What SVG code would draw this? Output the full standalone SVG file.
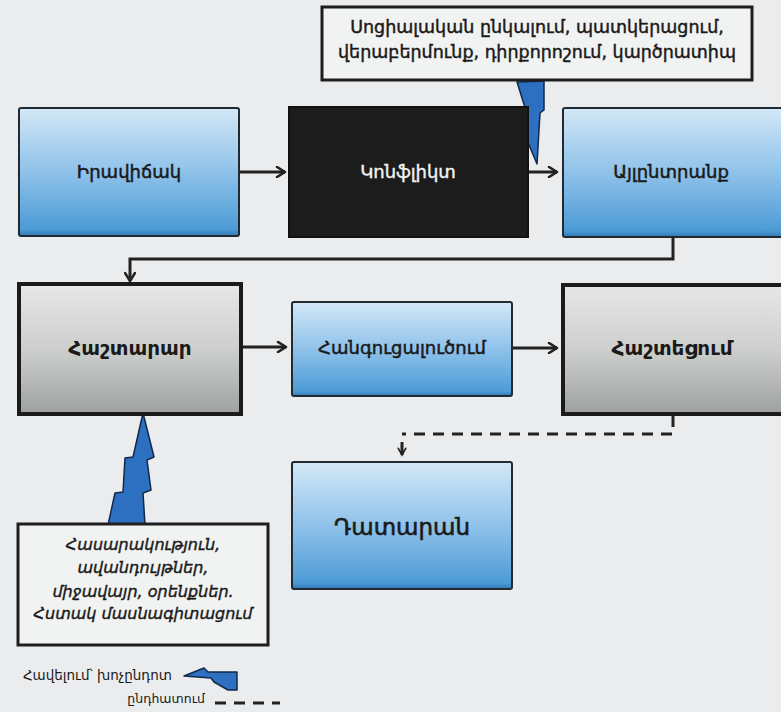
<svg xmlns="http://www.w3.org/2000/svg" width="781" height="712" viewBox="0 0 781 712">
<defs>
<linearGradient id="blue" x1="0" y1="0" x2="0" y2="1">
<stop offset="0" stop-color="#d3e7f6"/>
<stop offset="0.5" stop-color="#8fc2ea"/>
<stop offset="0.95" stop-color="#4d9bd6"/>
<stop offset="1" stop-color="#2f78b4"/>
</linearGradient>
<linearGradient id="gray" x1="0" y1="0" x2="0" y2="1">
<stop offset="0" stop-color="#e6e7e6"/>
<stop offset="0.5" stop-color="#cdcfcd"/>
<stop offset="1" stop-color="#9ea29f"/>
</linearGradient>
<marker id="arr" viewBox="0 0 12 12" refX="10" refY="6" markerWidth="12" markerHeight="12" markerUnits="userSpaceOnUse" orient="auto">
<path d="M2,1 L10,6 L2,11" fill="none" stroke="#222" stroke-width="2.6" stroke-linecap="round" stroke-linejoin="round"/>
</marker>
<marker id="arrs" viewBox="0 0 12 12" refX="10" refY="6" markerWidth="10" markerHeight="10" markerUnits="userSpaceOnUse" orient="auto">
<path d="M2,1.5 L10,6 L2,10.5" fill="none" stroke="#222" stroke-width="2" stroke-linecap="round"/>
</marker>
</defs>
<style>
.bg{fill:#ebecee}
.bbox{fill:url(#blue);stroke:#1f2a33;stroke-width:2}
.gbox{fill:url(#gray);stroke:#1b1b1b;stroke-width:4}
.kbox{fill:#1c1c1c;stroke:#111;stroke-width:2}
.note{fill:#f1f2f2;stroke:#1e1e1e;stroke-width:3}
.bolt{fill:#2d6fc0;stroke:#122a4a;stroke-width:1.5;stroke-linejoin:round}
.lbl{font-family:"DejaVu Sans",sans-serif;font-size:18px;fill:#1a1a1a;text-anchor:middle;stroke:#1a1a1a;stroke-width:0.5}
.lblb{font-family:"DejaVu Sans",sans-serif;font-size:20px;font-weight:bold;fill:#1a1a1a;text-anchor:middle}
.lblw{font-family:"DejaVu Sans",sans-serif;font-size:18px;fill:#f2f2f2;text-anchor:middle;stroke:#f2f2f2;stroke-width:0.4}
.nt{font-family:"DejaVu Sans",sans-serif;font-size:17.5px;fill:#1a1a1a;text-anchor:middle;stroke:#1a1a1a;stroke-width:0.45}
.nti{font-family:"DejaVu Sans",sans-serif;font-size:16px;font-style:italic;fill:#1a1a1a;text-anchor:middle;stroke:#1a1a1a;stroke-width:0.4}
.lg{font-family:"DejaVu Sans",sans-serif;font-size:13.5px;fill:#1a1a1a}
.conn{fill:none;stroke:#222;stroke-width:3}
.dash{fill:none;stroke:#222;stroke-width:3;stroke-dasharray:11 8}
</style>
<rect class="bg" x="0" y="0" width="781" height="712"/>

<g id="connectors">
<line class="conn" x1="239" y1="172" x2="285" y2="172" marker-end="url(#arr)"/>
<line class="conn" x1="528" y1="172" x2="557" y2="172" marker-end="url(#arr)"/>
<polyline class="conn" points="673,237 673,259 130,259 130,281" marker-end="url(#arr)"/>
<line class="conn" x1="242" y1="347" x2="286" y2="347" marker-end="url(#arr)"/>
<line class="conn" x1="512" y1="348" x2="557" y2="348" marker-end="url(#arr)"/>
<polyline class="dash" points="673,416 673,434 402,434" />
<line class="conn" x1="402" y1="442" x2="402" y2="455" stroke-width="2" marker-end="url(#arrs)"/>
<polygon class="bolt" points="517,82 544,81 544,110 540,113 537,164 519,121 527,114"/>
<polygon class="bolt" points="143,413 154,457 147,460 151,490 143,493 145,525 108,525 115,493 123,492 125,458 133,457"/>
</g>

<g id="n-iravichak">
<rect class="bbox" x="19" y="108" width="220" height="128" rx="2"/>
<text class="lbl" x="129" y="178">Իրավիճակ</text>
</g>
<g id="n-konflikt">
<rect class="kbox" x="289" y="107" width="239" height="130"/>
<text class="lblw" x="408" y="178">Կոնֆլիկտ</text>
</g>
<g id="n-aylntranq">
<rect class="bbox" x="563" y="108" width="222" height="129" rx="2"/>
<text class="lbl" x="671" y="178">Այլընտրանք</text>
</g>
<g id="n-social">
<rect class="note" x="322" y="7" width="430" height="73"/>
<text class="nt" x="537" y="33">Սոցիալական ընկալում, պատկերացում,</text>
<text class="nt" x="537" y="58">վերաբերմունք, դիրքորոշում, կարծրատիպ</text>
</g>
<g id="n-hashtarar">
<rect class="gbox" x="19" y="284" width="222" height="130"/>
<text class="lblb" x="130" y="355">Հաշտարար</text>
</g>
<g id="n-hanguc">
<rect class="bbox" x="292" y="302" width="220" height="94" rx="2"/>
<text class="lbl" x="402" y="354">Հանգուցալուծում</text>
</g>
<g id="n-hashtecum">
<rect class="gbox" x="563" y="285" width="224" height="129"/>
<text class="lblb" x="672" y="355">Հաշտեցում</text>
</g>
<g id="n-datarran">
<rect class="bbox" x="292" y="462" width="220" height="127" rx="2"/>
<text class="lbl" x="402" y="535" style="font-size:23px;stroke-width:0.6">Դատարան</text>
</g>
<g id="n-hasarak">
<rect class="note" x="18" y="524" width="250" height="121"/>
<text class="nti" x="143" y="550">Հասարակություն,</text>
<text class="nti" x="143" y="573">ավանդույթներ,</text>
<text class="nti" x="143" y="597">միջավայր, օրենքներ.</text>
<text class="nti" x="143" y="619">Հստակ մասնագիտացում</text>
</g>
<g id="legend">
<text class="lg" x="172" y="680" text-anchor="end">Հավելում՝ խոչընդոտ</text>
<polygon class="bolt" points="184,676 204,668 208,672 237,672 237,690 228,690 214,682 211,678"/>
<text class="lg" x="205" y="703" text-anchor="end" style="font-size:12.5px">ընդհատում</text>
<line class="dash" x1="215" y1="703" x2="280" y2="703" stroke-width="2.5" stroke-dasharray="8 6"/>
</g>
</svg>
